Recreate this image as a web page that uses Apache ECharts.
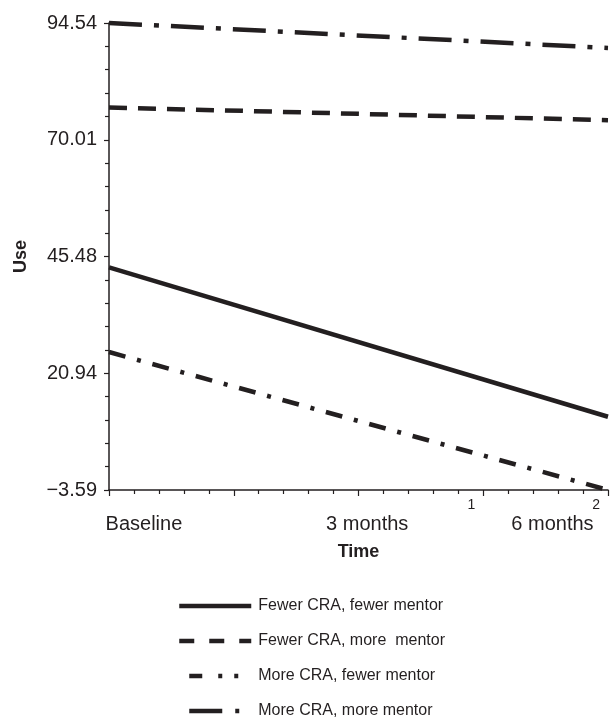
<!DOCTYPE html>
<html>
<head>
<meta charset="utf-8">
<script src="https://cdn.jsdelivr.net/npm/echarts@6/dist/echarts.min.js"></script>
<style>
html,body{margin:0;padding:0;background:#fff;}
#chart{width:610px;height:723px;}
</style>
</head>
<body>
<div id="chart"></div>
<script>
// ---- data ----
var xValues = [-2, 2];
var seriesNames = ['Fewer CRA, fewer mentor', 'Fewer CRA, more  mentor', 'More CRA, fewer mentor', 'More CRA, more mentor'];
var fewerCraFewerMentor = [43.2, 11.8];
var fewerCraMoreMentor = [76.8, 74.1];
var moreCraFewerMentor = [25.4, -3.59];
var moreCraMoreMentor = [94.54, 89.3];
var yTickLabels = ['\u22123.59', '20.94', '45.48', '70.01', '94.54'];
var yMin = -3.59, yMax = 94.54;
var xTickLabels = {'1': '1', '2': '2'};
var timeLabels = ['Baseline', '3 months', '6 months'];
var timeLabelAt = [-1.72, 0.07, 1.555];

// ---- styles ----
var INK = '#231f20';
var FONT = '"Liberation Sans", Arial, Helvetica, sans-serif';
var LW = 4.5;

function pairs(ys) { return xValues.map(function (x, i) { return [x, ys[i]]; }); }
var yInterval = (yMax - yMin) / 4;

var lineTypes = ['solid', [18, 11], [17, 12, 4, 12], [33, 12, 5, 12]];
var legendLineStyles = [
  {type: 'solid'},
  {type: [15, 15], dashOffset: 0},
  {type: [13, 16, 4, 12, 4, 23], dashOffset: 62},
  {type: [33, 13, 4, 22], dashOffset: 62}
];
var dataSets = [fewerCraFewerMentor, fewerCraMoreMentor, moreCraFewerMentor, moreCraMoreMentor];

var chart = echarts.init(document.getElementById('chart'), null, {renderer: 'canvas'});
chart.setOption({
  backgroundColor: '#ffffff',
  animation: false,
  textStyle: {fontFamily: FONT, color: INK},
  grid: {left: 109, right: 2, top: 23, bottom: 233},
  xAxis: [{
    type: 'value', min: -2, max: 2, interval: 1,
    name: 'Time', nameLocation: 'middle', nameGap: 53,
    nameTextStyle: {fontFamily: FONT, fontWeight: 'bold', fontSize: 18, color: INK},
    axisLine: {show: true, onZero: false, lineStyle: {color: INK, width: 1.5}},
    axisTick: {show: true, length: 6, lineStyle: {color: INK, width: 1.2}},
    minorTick: {show: true, splitNumber: 5, length: 4, lineStyle: {color: INK, width: 1.2}},
    splitLine: {show: false},
    axisLabel: {
      margin: 8, fontSize: 14, color: INK, fontFamily: FONT, align: 'right', padding: [0, 8, 0, 0],
      formatter: function (v) { return xTickLabels[String(v)] || ''; }
    }
  }, {
    type: 'value', min: -2, max: 2, position: 'bottom',
    axisLine: {show: false}, axisTick: {show: false}, splitLine: {show: false},
    axisLabel: {
      show: true, margin: 24, fontSize: 20, color: INK, fontFamily: FONT,
      customValues: timeLabelAt,
      formatter: function (v) { var i = timeLabelAt.indexOf(v); return i >= 0 ? timeLabels[i] : ''; }
    }
  }],
  yAxis: {
    type: 'value', min: yMin, max: yMax, interval: yInterval,
    name: 'Use', nameLocation: 'middle', nameGap: 79,
    nameTextStyle: {fontFamily: FONT, fontWeight: 'bold', fontSize: 18, color: INK},
    axisLine: {show: true, onZero: false, lineStyle: {color: INK, width: 1.5}},
    axisTick: {show: true, length: 5, lineStyle: {color: INK, width: 1.2}},
    minorTick: {show: true, splitNumber: 5, length: 4, lineStyle: {color: INK, width: 1.2}},
    splitLine: {show: false},
    axisLabel: {
      margin: 12, fontSize: 20, color: INK, fontFamily: FONT,
      formatter: function (v) { return yTickLabels[Math.round((v - yMin) / yInterval)]; }
    }
  },
  legend: {
    orient: 'vertical', left: 172, top: 591, height: 200,
    itemWidth: 72, itemHeight: 14, itemGap: 15,
    itemStyle: {opacity: 0},
    textStyle: {fontFamily: FONT, fontSize: 16, color: INK, padding: [0, 0, 0, 2], lineHeight: 20},
    data: seriesNames.map(function (n, i) {
      return {name: n, itemStyle: {opacity: 0},
        lineStyle: Object.assign({width: LW, color: INK, cap: 'butt'}, legendLineStyles[i])};
    })
  },
  series: dataSets.map(function (ys, i) {
    return {
      name: seriesNames[i], type: 'line', data: pairs(ys), xAxisIndex: 0,
      symbol: 'none', clip: false, silent: true,
      lineStyle: {color: INK, width: LW, type: lineTypes[i], cap: 'butt'},
      itemStyle: {color: INK}
    };
  })
});
</script>
</body>
</html>
